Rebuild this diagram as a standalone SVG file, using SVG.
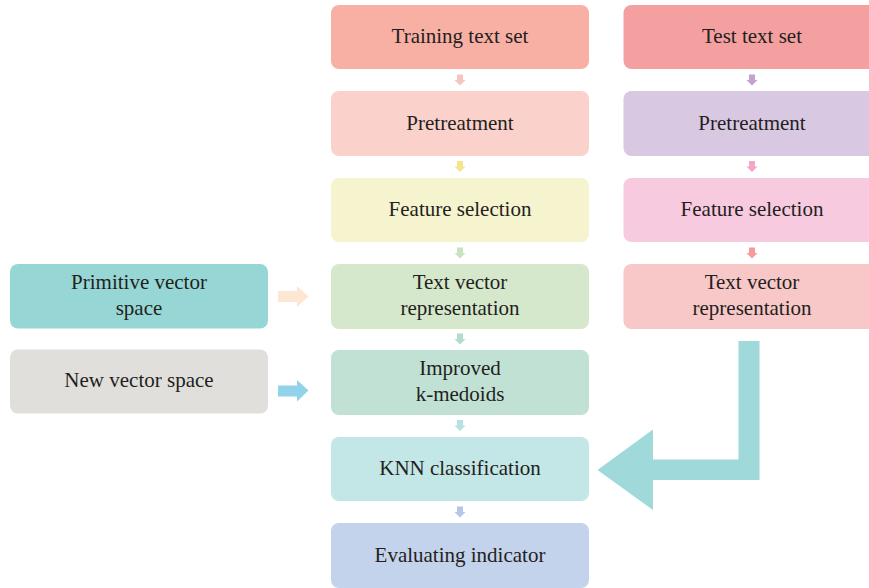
<svg xmlns="http://www.w3.org/2000/svg" xmlns:xlink="http://www.w3.org/1999/xlink" width="869" height="588" viewBox="0 0 869 588">
<style>
text{font-family:"Liberation Serif","Times New Roman",serif;font-size:21px;fill:#231f20;text-anchor:middle}
.box{rx:8;ry:8}
</style>
<defs>
<path id="da" d="M-3,-5.5 H3 V0 H5.5 L0,5.5 L-5.5,0 H-3 Z"/>
</defs>
<rect width="869" height="588" fill="#ffffff"/>
<g id="connectors">
<use xlink:href="#da" href="#da" x="460" y="80" fill="#f8c4c0"/>
<use xlink:href="#da" href="#da" x="460" y="166.5" fill="#f5e58f"/>
<use xlink:href="#da" href="#da" x="460" y="253" fill="#c8e3bf"/>
<use xlink:href="#da" href="#da" x="460" y="339" fill="#b5dcca"/>
<use xlink:href="#da" href="#da" x="460" y="425.5" fill="#b8e2e2"/>
<use xlink:href="#da" href="#da" x="460" y="512" fill="#b3c7ea"/>
<use xlink:href="#da" href="#da" x="752" y="80" fill="#c2a3d2"/>
<use xlink:href="#da" href="#da" x="752" y="166.5" fill="#f4a6c8"/>
<use xlink:href="#da" href="#da" x="752" y="253" fill="#f49b9c"/>
<path d="M278,291 H297 V286 L308.5,296.5 L297,307 V302 H278 Z" fill="#fde6d2"/>
<path d="M278,385.5 H297 V380 L308.5,390.5 L297,401.5 V396.5 H278 Z" fill="#92d3ea"/>
<path d="M738.5,341 H759.5 V480 H653 V510 L597.5,470 L653,429.5 V459.5 H738.5 Z" fill="#9fd9d9"/>
</g>
<g id="training">
<rect class="box" x="331" y="5" width="258" height="64" fill="#f8b0a4"/>
<text x="460" y="43">Training text set</text>
</g>
<g id="pretreat1">
<rect class="box" x="331" y="91" width="258" height="65" fill="#fad1cb"/>
<text x="460" y="129.5">Pretreatment</text>
</g>
<g id="feature1">
<rect class="box" x="331" y="178" width="258" height="64" fill="#f6f3cf"/>
<text x="460" y="216">Feature selection</text>
</g>
<g id="textvec1">
<rect class="box" x="331" y="264" width="258" height="65" fill="#d5e8cc"/>
<text x="460" y="289">Text vector</text>
<text x="460" y="314.5">representation</text>
</g>
<g id="kmedoids">
<rect class="box" x="331" y="350" width="258" height="65" fill="#c0e1d4"/>
<text x="460" y="375">Improved</text>
<text x="460" y="400.5">k-medoids</text>
</g>
<g id="knn">
<rect class="box" x="331" y="437" width="258" height="64" fill="#c3e6e6"/>
<text x="460" y="475">KNN classification</text>
</g>
<g id="evaluating">
<rect class="box" x="331" y="523" width="258" height="65" fill="#c3d3ec"/>
<text x="460" y="561.5">Evaluating indicator</text>
</g>
<g id="test">
<rect class="box" x="623.5" y="5" width="258" height="64" fill="#f49fa0"/>
<text x="752" y="43">Test text set</text>
</g>
<g id="pretreat2">
<rect class="box" x="623.5" y="91" width="258" height="65" fill="#d9c8e2"/>
<text x="752" y="129.5">Pretreatment</text>
</g>
<g id="feature2">
<rect class="box" x="623.5" y="178" width="258" height="64" fill="#f8cae0"/>
<text x="752" y="216">Feature selection</text>
</g>
<g id="textvec2">
<rect class="box" x="623.5" y="264" width="258" height="65" fill="#f8c8c8"/>
<text x="752" y="289">Text vector</text>
<text x="752" y="314.5">representation</text>
</g>
<g id="primitive">
<rect class="box" x="10" y="264" width="258" height="64.5" fill="#96d7d5"/>
<text x="139" y="289">Primitive vector</text>
<text x="139" y="315">space</text>
</g>
<g id="newspace">
<rect class="box" x="10" y="349.5" width="258" height="64" fill="#e1dfdb"/>
<text x="139" y="387">New vector space</text>
</g>
</svg>
